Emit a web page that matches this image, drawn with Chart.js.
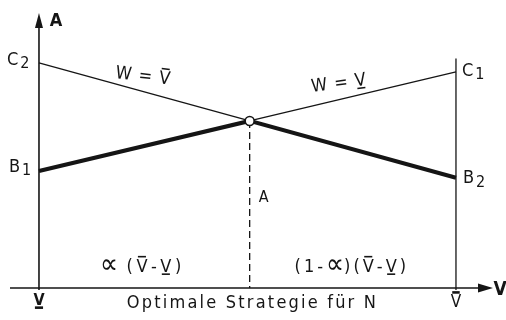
<!DOCTYPE html>
<html>
<head>
<meta charset="utf-8">
<script src="https://cdn.jsdelivr.net/npm/chart.js@4"></script>
<style>
  html, body { margin: 0; padding: 0; background: #fff; }
  #wrap { width: 506px; height: 320px; }
</style>
</head>
<body>
<div id="wrap"><canvas id="stratChart"></canvas></div>
<script>
// strategy axis: V (lower) at 0, V-bar (upper) at 1
const strategyPos = [0, 1];
// payoff A along the strategy axis for the two pure lines
const lineOverBar = [10.0, 4.9];   // C2 -> B2  (W = V-bar)
const lineUnderBar = [5.2, 9.6];   // B1 -> C1  (W = V-underbar)
// top of the right boundary line
const rightEdgeTop = 10.2;

const INK = '#151515';
const FONT = '"DejaVu Sans Condensed", "DejaVu Sans", sans-serif';

// where the two lines cross
const slopeA = (lineOverBar[1] - lineOverBar[0]) / (strategyPos[1] - strategyPos[0]);
const slopeB = (lineUnderBar[1] - lineUnderBar[0]) / (strategyPos[1] - strategyPos[0]);
const crossX = strategyPos[0] + (lineUnderBar[0] - lineOverBar[0]) / (slopeA - slopeB);
const crossY = lineOverBar[0] + slopeA * (crossX - strategyPos[0]);

const toPts = (ys) => strategyPos.map((x, i) => ({ x: x, y: ys[i] }));

// text made of pieces, some with a bar over or under the glyph
function drawRich(ctx, parts, cx, cy, size, spacing) {
    ctx.textAlign = 'left';
    ctx.textBaseline = 'middle';
    const fontOf = p => (p.bold ? 'bold ' : '') + (p.size || size) + 'px ' + FONT;
    const spOf = p => (p.sp !== undefined ? p.sp : (spacing || 0));
    const widths = parts.map(p => {
        ctx.font = fontOf(p);
        ctx.letterSpacing = spOf(p) + 'px';
        return ctx.measureText(p.t).width;
    });
    const total = widths.reduce((a, b) => a + b, 0);
    let x = cx - total / 2;
    parts.forEach((p, i) => {
        ctx.font = fontOf(p);
        ctx.letterSpacing = spOf(p) + 'px';
        ctx.fillText(p.t, x, cy + (p.dy || 0));
        if (p.bar) {
            const m = ctx.measureText(p.t);
            const by = p.bar === 'over'
                ? cy - m.actualBoundingBoxAscent - 2
                : cy + m.actualBoundingBoxDescent + 2.5;
            ctx.beginPath();
            ctx.lineWidth = p.heavy ? 2.6 : 1.6;
            ctx.moveTo(x + 1.5, by);
            ctx.lineTo(x + widths[i] - 1.5 - spOf(p), by);
            ctx.stroke();
        }
        x += widths[i];
    });
    ctx.letterSpacing = '0px';
}

function drawSub(ctx, main, sub, x, y) {
    ctx.textAlign = 'left';
    ctx.textBaseline = 'middle';
    ctx.font = '18px ' + FONT;
    ctx.fillText(main, x, y);
    const w = ctx.measureText(main).width;
    ctx.font = '16px ' + FONT;
    ctx.fillText(sub, x + w + 2, y + 4);
}

const axesAndLabels = {
    id: 'axesAndLabels',
    beforeDatasetsDraw(chart) {
        const ctx = chart.ctx;
        const xs = chart.scales.x, ys = chart.scales.y;
        const area = chart.chartArea;
        const x0 = xs.getPixelForValue(strategyPos[0]);
        const x1 = xs.getPixelForValue(strategyPos[1]);
        const y0 = ys.getPixelForValue(0);
        ctx.save();
        ctx.strokeStyle = INK;
        ctx.fillStyle = INK;
        ctx.lineWidth = 1.6;

        // horizontal axis with arrow
        ctx.beginPath();
        ctx.moveTo(area.left, y0);
        ctx.lineTo(area.right - 10, y0);
        ctx.stroke();
        ctx.beginPath();
        ctx.moveTo(area.right, y0);
        ctx.lineTo(area.right - 15, y0 - 4.5);
        ctx.lineTo(area.right - 15, y0 + 4.5);
        ctx.closePath();
        ctx.fill();

        // vertical axis with arrow
        ctx.beginPath();
        ctx.moveTo(x0, y0 + 2);
        ctx.lineTo(x0, area.top + 10);
        ctx.stroke();
        ctx.beginPath();
        ctx.moveTo(x0, area.top - 2);
        ctx.lineTo(x0 - 4, area.top + 13);
        ctx.lineTo(x0 + 4, area.top + 13);
        ctx.closePath();
        ctx.fill();

        // right boundary
        ctx.lineWidth = 1.3;
        ctx.beginPath();
        ctx.moveTo(x1, y0 + 2);
        ctx.lineTo(x1, ys.getPixelForValue(rightEdgeTop));
        ctx.stroke();
        ctx.restore();
    },
    afterDatasetsDraw(chart) {
        const ctx = chart.ctx;
        const xs = chart.scales.x, ys = chart.scales.y;
        const area = chart.chartArea;
        const x0 = xs.getPixelForValue(strategyPos[0]);
        const x1 = xs.getPixelForValue(strategyPos[1]);
        const y0 = ys.getPixelForValue(0);
        const xc = xs.getPixelForValue(crossX);
        ctx.save();
        ctx.strokeStyle = INK;
        ctx.fillStyle = INK;

        ctx.textAlign = 'center';
        ctx.textBaseline = 'middle';
        ctx.font = 'bold 18px ' + FONT;
        ctx.fillText('A', x0 + 17, area.top + 6);
        ctx.font = 'bold 19px ' + FONT;
        ctx.fillText('V', area.right + 7, y0 + 2);
        ctx.font = '16px ' + FONT;
        ctx.fillText('A', xc + 14, ys.getPixelForValue(crossY) + 77);

        drawSub(ctx, 'C', '2', x0 - 32, ys.getPixelForValue(lineOverBar[0]) - 3);
        drawSub(ctx, 'B', '1', x0 - 30, ys.getPixelForValue(lineUnderBar[0]) - 4);
        drawSub(ctx, 'C', '1', x1 + 6, ys.getPixelForValue(lineUnderBar[1]) - 1);
        drawSub(ctx, 'B', '2', x1 + 7, ys.getPixelForValue(lineOverBar[1]) + 1);

        // line labels, tilted a little along their lines
        const la = 0.25, lb = 0.72;
        ctx.save();
        ctx.translate(xs.getPixelForValue(la), ys.getPixelForValue(lineOverBar[0] + slopeA * la) - 15);
        ctx.rotate(0.12);
        drawRich(ctx, [{ t: 'W = ' }, { t: 'V', bar: 'over' }], 0, 0, 18, 1);
        ctx.restore();
        ctx.save();
        ctx.translate(xs.getPixelForValue(lb), ys.getPixelForValue(lineUnderBar[0] + slopeB * lb) - 16);
        ctx.rotate(-0.13);
        drawRich(ctx, [{ t: 'W = ' }, { t: 'V', bar: 'under' }], 0, 0, 18, 1);
        ctx.restore();

        // interval widths
        drawRich(ctx, [{ t: '\u221D', size: 28, dy: -1, sp: 0 }, { t: ' (' }, { t: 'V', bar: 'over' }, { t: '-' }, { t: 'V', bar: 'under' }, { t: ')' }],
            (x0 + xc) / 2 - 2, y0 - 21, 18, 3.5);
        drawRich(ctx, [{ t: '(1-' }, { t: '\u221D', size: 28, dy: -1, sp: 0 }, { t: ')(' }, { t: 'V', bar: 'over' }, { t: '-' }, { t: 'V', bar: 'under' }, { t: ')' }],
            (xc + x1) / 2 - 1, y0 - 21, 18, 3);

        // strategy axis labels
        drawRich(ctx, [{ t: 'V', bar: 'under', heavy: true, bold: true }], x0, y0 + 13, 16, 0);
        drawRich(ctx, [{ t: 'V', bar: 'over', heavy: true }], x1, y0 + 15, 17, 0);
        ctx.font = '18px ' + FONT;
        ctx.letterSpacing = '2.2px';
        ctx.textAlign = 'center';
        ctx.textBaseline = 'middle';
        ctx.fillText('Optimale Strategie f\u00FCr N', (x0 + x1) / 2 + 5, y0 + 15);
        ctx.restore();
    }
};

new Chart(document.getElementById('stratChart'), {
    type: 'scatter',
    data: {
        datasets: [
            {
                // crossing point
                data: [{ x: crossX, y: crossY }],
                pointRadius: 4.5,
                pointBorderWidth: 1.6,
                pointBackgroundColor: '#fff',
                pointBorderColor: INK,
                order: 0
            },
            {
                data: toPts(lineOverBar),
                showLine: true,
                borderColor: INK,
                borderWidth: 1.3,
                pointRadius: 0,
                order: 3
            },
            {
                data: toPts(lineUnderBar),
                showLine: true,
                borderColor: INK,
                borderWidth: 1.3,
                pointRadius: 0,
                order: 3
            },
            {
                // lower envelope
                data: [
                    { x: strategyPos[0], y: lineUnderBar[0] },
                    { x: crossX, y: crossY },
                    { x: strategyPos[1], y: lineOverBar[1] }
                ],
                showLine: true,
                borderColor: INK,
                borderWidth: 4,
                pointRadius: 0,
                order: 2
            },
            {
                data: [{ x: crossX, y: crossY }, { x: crossX, y: 0 }],
                showLine: true,
                borderColor: INK,
                borderWidth: 1.3,
                borderDash: [7, 4],
                pointRadius: 0,
                order: 2
            }
        ]
    },
    options: {
        responsive: true,
        maintainAspectRatio: false,
        animation: false,
        layout: { padding: { left: 10, right: 13, top: 15, bottom: 32 } },
        plugins: { legend: { display: false }, tooltip: { enabled: false } },
        scales: {
            x: { type: 'linear', display: false, min: -0.0695, max: 1.0888 },
            y: { type: 'linear', display: false, min: 0, max: 12.13 }
        }
    },
    plugins: [axesAndLabels]
});
</script>
</body>
</html>
